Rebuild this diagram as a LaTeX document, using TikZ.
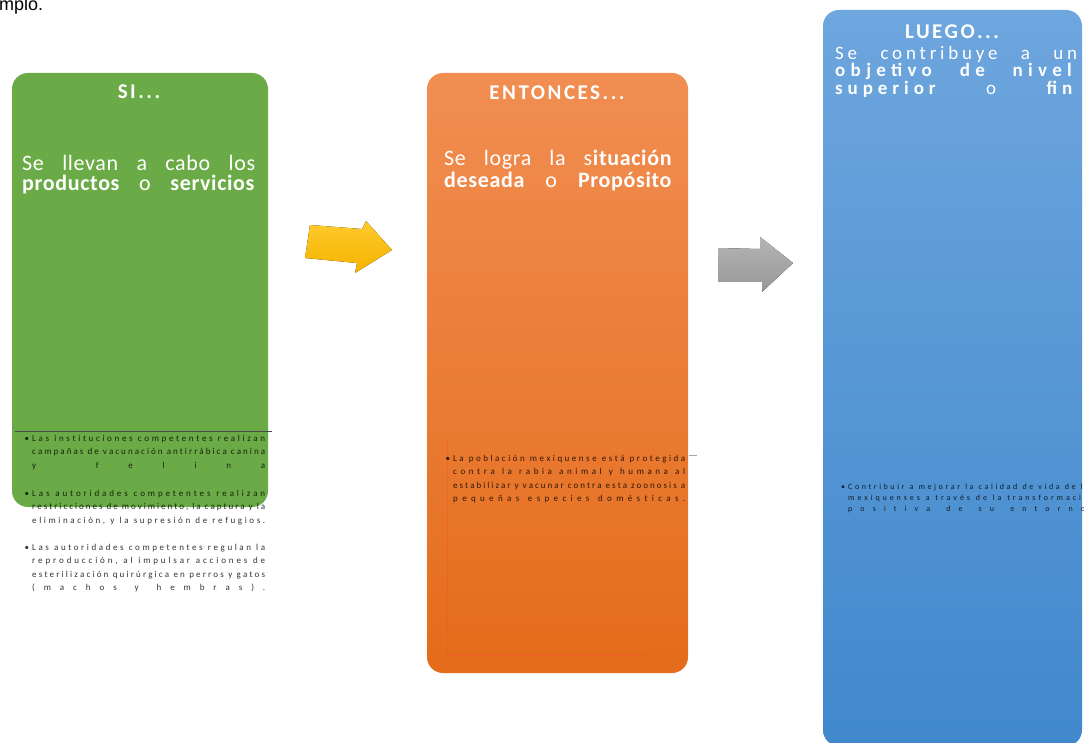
\documentclass[tikz,border=0pt]{standalone}
\usepackage{fontspec}
\setmainfont{Carlito}
\newfontfamily\arialfont{Liberation Sans}
\usetikzlibrary{arrows}

\definecolor{verdesi}{HTML}{6BAB47}
\definecolor{naranjatop}{HTML}{F18E52}
\definecolor{naranjabot}{HTML}{E46C1A}
\definecolor{azultop}{HTML}{6EA6DE}
\definecolor{azulbot}{HTML}{4088CC}
\definecolor{amarillotop}{HTML}{FFCA2C}
\definecolor{amarillobot}{HTML}{F4B400}
\definecolor{grisflecha}{HTML}{A8A8A8}

% lineas justificadas y lineas repartidas letra por letra
\newcommand\justln[1]{\noindent\makebox[\hsize][s]{\spaceskip=0pt\xspaceskip=0pt #1}\par}
\newcommand\spreadbox[1]{\makebox[\hsize][s]{\spreadwords#1 \relax}}
\newcommand\spreadln[1]{\noindent\spreadbox{#1}\par}
\newcommand\bulln[1]{\noindent\llap{\textbullet\hspace{3pt}}\spreadbox{#1}\par}
\def\spreadletters#1{\spreadfirst#1\relax}
\def\spreadfirst#1{#1\spreadrest}
\def\spreadrest#1{\ifx\relax#1\else\hfill#1\expandafter\spreadrest\fi}
\def\spreadwords#1 #2\relax{\spreadletters{#1}\ifx\relax#2\relax\else\hfill\hfill\spreadwords#2\relax\fi}

\begin{document}
\begin{tikzpicture}[x=1pt,y=-1pt,
  caja/.style={rounded corners=16pt, inner sep=0pt, draw=none},
  titulo/.style={anchor=base, inner sep=0pt, text=white, font=\fontsize{21}{23}\selectfont\bfseries\addfontfeature{LetterSpace=12}},
  cuerpo/.style={anchor=north west, inner sep=0pt, text=white, text width=#1, font=\fontsize{22}{20}\selectfont\addfontfeature{LetterSpace=3}},
  bala/.style={anchor=north west, inner sep=0pt, text width=#1, text opacity=0.8, font=\fontsize{9}{13.5}\selectfont}]
\useasboundingbox (0,0) rectangle (1084,743);
\clip (0,0) rectangle (1084,743);
\node[anchor=base west, inner sep=0pt, font=\arialfont\fontsize{18}{20}\selectfont] (ejemplo) at (-1,11) {mplo.};

% cajas
\node[caja, minimum width=256, minimum height=434, fill=verdesi] (si) at (140,290) {};
\node[caja, minimum width=261, minimum height=600, top color=naranjatop, bottom color=naranjabot] (entonces) at (557.5,373) {};
\node[caja, minimum width=259, minimum height=736, top color=azultop, bottom color=azulbot] (luego) at (952.5,378) {};
\draw[naranjatop!60!red, opacity=0.5, line width=1pt] (447,440) -- (447,655) -- (650,655);

% flechas
\fill[top color=amarillotop, bottom color=amarillobot] (310,225) -- (362,229) -- (366,221) -- (392,250) -- (355,273) -- (357,263) -- (305,258) -- cycle;
\fill[top color=grisflecha!85!white, bottom color=grisflecha!90!black] (718,248) -- (760,249) -- (760,237) -- (793,263) -- (762,292) -- (762,282) -- (718,282) -- cycle;

% SI...
\node[titulo] (sititulo) at (139,99) {SI...};
\node[cuerpo=233] (sitexto) at (22,155) {\justln{Se llevan a cabo los}\justln{\textbf{productos} o \textbf{servicios}}};
\draw[gray!60!black, line width=0.7pt] (15,431) -- (272,431);
\node[bala=233] (sib1) at (32,435) {\bulln{Las instituciones competentes realizan}\spreadln{campañas de vacunación antirrábica canina}\spreadln{y felina}};
\node[bala=233] (sib2) at (32,490) {\bulln{Las autoridades competentes realizan}\spreadln{restricciones de movimiento, la captura y la}\spreadln{eliminación, y la supresión de refugios.}};
\node[bala=233] (sib3) at (32,544) {\bulln{Las autoridades competentes regulan la}\spreadln{reproducción, al impulsar acciones de}\spreadln{esterilización quirúrgica en perros y gatos}\spreadln{(machos y hembras).}};

% ENTONCES...
\node[titulo] (entoncestitulo) at (557,100) {ENTONCES...};
\node[cuerpo=228, font=\fontsize{22}{22}\selectfont\addfontfeature{LetterSpace=3}] (entoncestexto) at (444,150) {\justln{Se logra la s\textbf{ituación}}\justln{\textbf{deseada} o \textbf{Propósito}}};
\draw[gray!70, line width=0.8pt] (689,455) -- (697,455);
\node[bala=232] (entoncesb1) at (453,455) {\bulln{La población mexiquense está protegida}\spreadln{contra la rabia animal y humana al}\spreadln{estabilizar y vacunar contra esta zoonosis a}\spreadln{pequeñas especies domésticas.}};

% LUEGO...
\node[titulo] (luegotitulo) at (952,39) {LUEGO...};
\node[cuerpo=242, font=\fontsize{19}{17.5}\selectfont\addfontfeature{LetterSpace=20}] (luegotexto) at (835,46) {\justln{Se contribuye a un}\justln{\addfontfeature{LetterSpace=28}\textbf{objetivo de nivel}}\justln{\addfontfeature{LetterSpace=26}\textbf{superior} o \textbf{fin}}};
\node[bala=247, font=\fontsize{8}{11}\selectfont] (luegob1) at (848,484) {\bulln{Contribuir a mejorar la calidad de vida de los}\spreadln{mexiquenses a través de la transformación}\spreadln{positiva de su entorno.}};
\end{tikzpicture}
\end{document}
